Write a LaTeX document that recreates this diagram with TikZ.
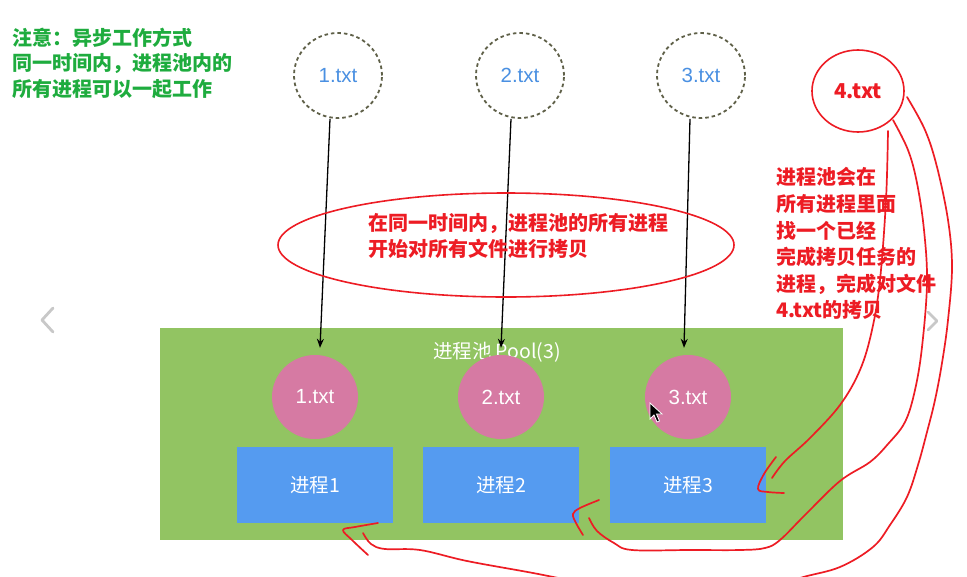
\documentclass[tikz,border=0pt]{standalone}
\usepackage{fontspec}
\setmainfont{Liberation Sans}
\newfontfamily\cjk{Noto Sans CJK SC}
\usetikzlibrary{arrows.meta,shapes.geometric}
\definecolor{noteGreen}{RGB}{30,172,62}
\definecolor{markRed}{RGB}{237,28,36}
\definecolor{dashGray}{RGB}{95,96,72}
\definecolor{fileBlue}{RGB}{74,144,226}
\definecolor{poolGreen}{RGB}{146,196,98}
\definecolor{filePink}{RGB}{214,122,163}
\definecolor{procBlue}{RGB}{85,155,240}
\definecolor{chevGray}{RGB}{200,200,200}
\begin{document}
\begin{tikzpicture}[x=1pt,y=-1pt,
  notetxt/.style={anchor=west, inner sep=0pt, text=noteGreen, font=\cjk\bfseries\fontsize{20}{24}\selectfont},
  redtxt/.style={anchor=west, inner sep=0pt, text=markRed, font=\cjk\bfseries\fontsize{20}{24}\selectfont},
  dashcirc/.style={ellipse, draw=dashGray, line width=1.8pt, dash pattern=on 3.5pt off 3pt, minimum width=88pt, minimum height=85pt, inner sep=0pt, text=fileBlue, font=\fontsize{20.5}{24}\selectfont},
  pinkc/.style={ellipse, fill=filePink, minimum width=86pt, minimum height=84pt, inner sep=0pt, text=white, font=\fontsize{20.5}{24}\selectfont},
  procbox/.style={rectangle, fill=procBlue, minimum width=156pt, minimum height=76pt, inner sep=0pt, text=white, font=\cjk\fontsize{19.5}{22}\selectfont},
  blackarr/.style={draw=black, line width=1.3pt, -{Stealth[length=9pt,width=7pt]}},
  redline/.style={draw=markRed, line width=1.7pt, line cap=round, line join=round},
  chev/.style={draw=chevGray, line width=2.8pt, line cap=round, line join=round}
]
\useasboundingbox (0,0) rectangle (967,576);
\fill[white] (0,0) rectangle (967,576);

% carousel chevrons
\draw[chev] (53,308) -- (42,320) -- (53,332);
\draw[chev] (928,312) -- (937,321) -- (928,330);

% green note
\node[notetxt] (n1) at (12,38) {注意：异步工作方式};
\node[notetxt] (n2) at (12,63.5) {同一时间内，进程池内的};
\node[notetxt] (n3) at (12,89) {所有进程可以一起工作};

% files
\node[dashcirc] (d1) at (338,75.5) {1.txt};
\node[dashcirc] (d2) at (520,75.5) {2.txt};
\node[dashcirc] (d3) at (701,75.5) {3.txt};

% pool
\node[rectangle, fill=poolGreen, minimum width=683pt, minimum height=212pt, inner sep=0pt] (pool) at (501.5,434) {};
\node[text=white, inner sep=0pt, font=\cjk\fontsize{19.5}{22}\selectfont] (ptitle) at (497,352) {进程池 Pool(3)};

\node[pinkc] (p1) at (315,397) {1.txt};
\node[pinkc] (p2) at (501,397) {2.txt};
\node[pinkc] (p3) at (688,397) {3.txt};

\node[procbox] (b1) at (315,485) {进程1};
\node[procbox] (b2) at (501,485) {进程2};
\node[procbox] (b3) at (688,485) {进程3};

% mouse cursor
\filldraw[fill=black, draw=white, line width=0.8pt] (650,403) -- (650,419) -- (654,415) -- (657,422) -- (659.5,421) -- (656.5,414) -- (662,414) -- cycle;

% black arrows
\draw[blackarr] ([xshift=-8pt]d1.south) -- ([xshift=5pt,yshift=7pt]p1.north);
\draw[blackarr] ([xshift=-9pt]d2.south) -- ([xshift=0pt,yshift=7pt]p2.north);
\draw[blackarr] ([xshift=-11pt]d3.south) -- ([xshift=-4pt,yshift=7pt]p3.north);

% red annotations
\node[ellipse, draw=markRed, line width=1.6pt, minimum width=456pt, minimum height=104pt, inner sep=0pt] (ell) at (506,245) {};
\node[redtxt] (e1) at (368,223) {在同一时间内，进程池的所有进程};
\node[redtxt] (e2) at (368,249) {开始对所有文件进行拷贝};

\node[ellipse, draw=markRed, line width=1.6pt, minimum width=92pt, minimum height=82pt, inner sep=0pt, text=markRed, font=\cjk\bfseries\fontsize{20.5}{24}\selectfont] (c4) at (858,91) {4.txt};

\node[redtxt] (r1) at (776,177) {进程池会在};
\node[redtxt] (r2) at (776,204) {所有进程里面};
\node[redtxt] (r3) at (776,231) {找一个已经};
\node[redtxt] (r4) at (776,257) {完成拷贝任务的};
\node[redtxt] (r5) at (776,284) {进程，完成对文件};
\node[redtxt] (r6) at (776,310) {4.txt的拷贝};

% curve A : 4.txt -> process 3
\draw[redline] plot[smooth, tension=0.6] coordinates {(888,131) (886,200) (880,280) (872,330) (860,370) (840,405) (810,438) (785,461) (772,478)};
\draw[redline] plot[smooth, tension=0.6] coordinates {(776,457) (764,474) (758,489) (768,492) (784,493)};

% curve B : 4.txt -> process 2
\draw[redline] plot[smooth, tension=0.6] coordinates {(893,120) (908,150) (917,183) (924,230) (927,283) (922,347) (915,390) (905,422) (888,444) (870,462) (840,481) (805,515) (780,540) (765,548) (740,550) (690,550) (632,550) (614,543) (597,531) (589,518)};
\draw[redline] plot[smooth, tension=0.6] coordinates {(599,500) (580,508) (573,514) (576,523) (583,535)};

% curve C + D : 4.txt -> process 1
\draw[redline] plot[smooth, tension=0.6] coordinates {(907,97) (925,130) (937,167) (948,220) (952,267) (948,320) (942,363) (935,400) (927,432) (918,465) (907,497) (890,525) (873,547) (840,567) (800,578) (760,592)};
\draw[redline] plot[smooth, tension=0.6] coordinates {(363,533) (371,544) (385,549) (420,550) (467,561) (533,573) (600,586) (680,598)};
\draw[redline] plot[smooth, tension=0.6] coordinates {(378,523) (355,527) (343,530) (352,540) (368,555)};
\end{tikzpicture}
\end{document}
